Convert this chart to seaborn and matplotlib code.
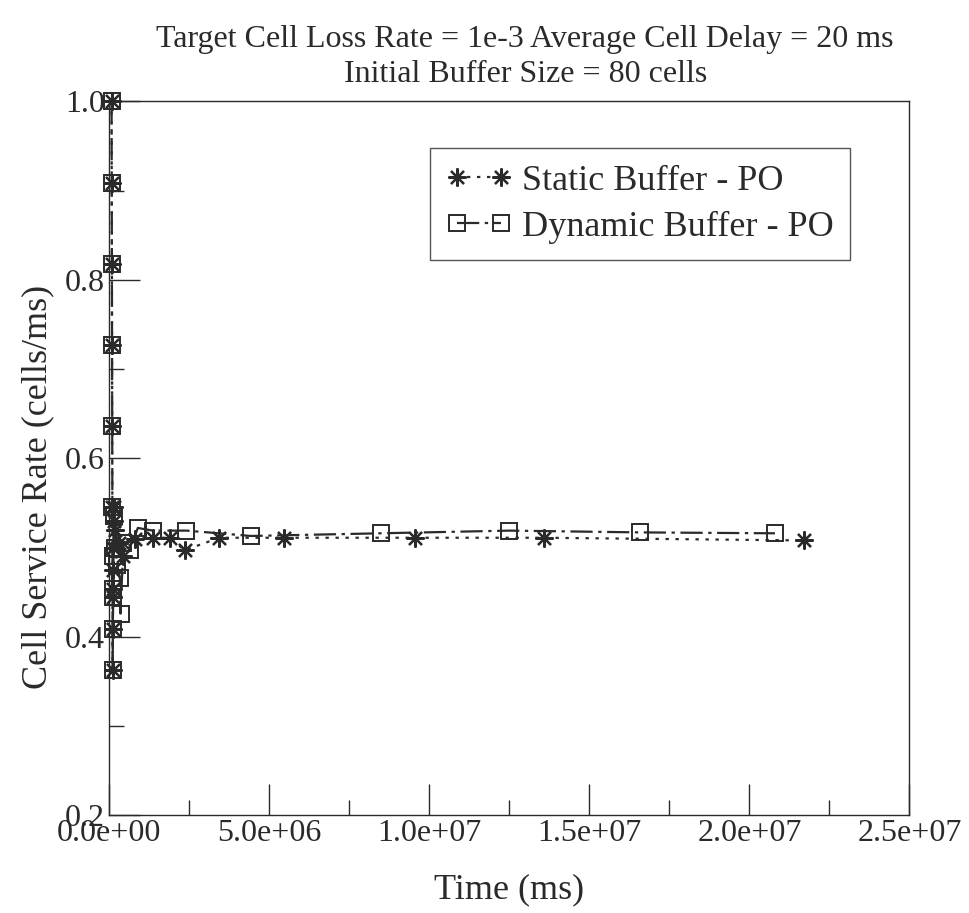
import matplotlib
matplotlib.use("Agg")
import matplotlib.pyplot as plt
import seaborn as sns
import pandas as pd
import numpy as np
from matplotlib.ticker import FuncFormatter, MultipleLocator

# ---- data ----
static_time = [8.0e4, 8.5e4, 9.0e4, 9.5e4, 1.0e5, 1.05e5, 1.1e5, 1.15e5, 1.2e5,
               1.25e5, 1.3e5, 1.4e5, 1.5e5, 1.6e5, 2.0e5, 3.0e5, 4.5e5, 8.0e5,
               1.37e6, 1.9e6, 2.36e6, 3.45e6, 5.47e6, 9.56e6, 1.36e7, 2.17e7]
static_rate = [1.0, 0.909, 0.818, 0.727, 0.636, 0.545, 0.454, 0.363, 0.409,
               0.445, 0.475, 0.50, 0.53, 0.545, 0.52, 0.505, 0.49, 0.51,
               0.511, 0.511, 0.497, 0.511, 0.511, 0.511, 0.511, 0.508]

dynamic_time = [8.0e4, 8.5e4, 9.0e4, 9.5e4, 1.0e5, 1.05e5, 1.1e5, 1.15e5, 1.2e5,
                1.3e5, 1.4e5, 1.6e5, 2.0e5, 2.6e5, 3.4e5, 3.6e5, 4.5e5, 6.5e5,
                9.0e5, 1.37e6, 2.42e6, 4.44e6, 8.5e6, 1.25e7, 1.66e7, 2.08e7]
dynamic_rate = [1.0, 0.909, 0.818, 0.727, 0.636, 0.545, 0.454, 0.363, 0.409,
                0.445, 0.49, 0.535, 0.50, 0.48, 0.466, 0.426, 0.505, 0.497,
                0.522, 0.519, 0.519, 0.513, 0.516, 0.519, 0.517, 0.516]

series_names = ["Static Buffer - PO", "Dynamic Buffer - PO"]
x_ticks = [0, 5e6, 1e7, 1.5e7, 2e7, 2.5e7]
y_ticks = [0.2, 0.4, 0.6, 0.8, 1.0]

title_text = "Target Cell Loss Rate = 1e-3 Average Cell Delay = 20 ms\nInitial Buffer Size = 80 cells"
x_label = "Time (ms)"
y_label = "Cell Service Rate (cells/ms)"

# ---- style ----
sns.set_style("ticks")
plt.rcParams['font.family'] = ['Liberation Serif', 'DejaVu Serif']
ink = "#2a2a2a"

fig = plt.figure(figsize=(9.69, 9.13), dpi=100)
ax = fig.add_axes([0.1125, 0.107, 0.826, 0.782])

df_s = pd.DataFrame({"time": static_time, "rate": static_rate})
df_d = pd.DataFrame({"time": dynamic_time, "rate": dynamic_rate})

sns.lineplot(data=df_s, x="time", y="rate", ax=ax, sort=False,
             color=ink, linestyle=(0, (1.5, 3)), linewidth=1.6,
             marker=(8, 2, 0), markersize=13, markeredgewidth=1.6,
             markeredgecolor=ink, label=series_names[0], clip_on=False)
sns.lineplot(data=df_d, x="time", y="rate", ax=ax, sort=False,
             color=ink, linestyle=(0, (10, 2.5, 1.5, 2.5)), linewidth=1.6,
             marker="s", markersize=12, markerfacecolor="none",
             markeredgewidth=1.4, markeredgecolor=ink,
             label=series_names[1], clip_on=False)

ax.set_xlim(0, 2.5e7)
ax.set_ylim(0.2, 1.0)
ax.set_xticks(x_ticks)
ax.set_yticks(y_ticks)
ax.xaxis.set_minor_locator(MultipleLocator(2.5e6))
ax.yaxis.set_minor_locator(MultipleLocator(0.1))
ax.xaxis.set_major_formatter(FuncFormatter(lambda v, p: "%.1e" % v))
ax.yaxis.set_major_formatter(FuncFormatter(lambda v, p: "%.1f" % v))
ax.tick_params(which="both", direction="in", top=False, right=False,
               colors=ink, width=1.0)
ax.tick_params(which="major", length=22, labelsize=23, pad=3)
ax.tick_params(which="minor", length=11)
for s in ax.spines.values():
    s.set_color(ink)
    s.set_linewidth(1.0)

ax.set_xlabel(x_label, fontsize=26, color=ink, labelpad=18)
ax.set_ylabel(y_label, fontsize=26, color=ink)
ax.yaxis.set_label_coords(-0.068, 0.46)
ax.set_title(title_text, fontsize=23, color=ink, pad=14, linespacing=1.25,
             x=0.52)

leg = ax.legend(loc="upper right", bbox_to_anchor=(0.926, 0.934), fontsize=26,
                frameon=True, fancybox=False, edgecolor=ink, numpoints=2,
                handlelength=1.8, handletextpad=0.3, borderpad=0.45,
                labelspacing=0.35, borderaxespad=0)
leg.get_frame().set_linewidth(1.0)
for t in leg.get_texts():
    t.set_color(ink)

fig.savefig("out.png", dpi=100, facecolor="white")
